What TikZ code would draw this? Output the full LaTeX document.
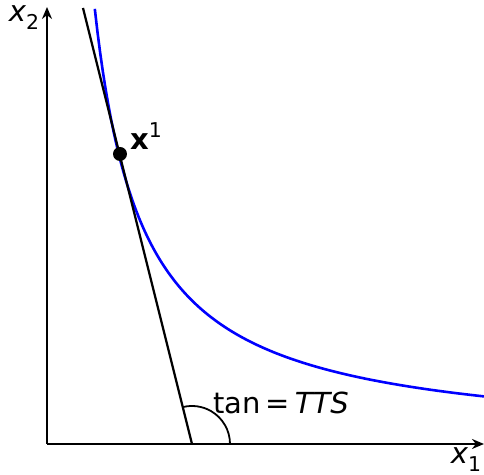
\documentclass[tikz,border=0pt]{standalone}
\usepackage{fontspec}
\setmainfont{DejaVu Sans}
\usetikzlibrary{arrows.meta}
\definecolor{inkK}{HTML}{000000}
\definecolor{cBlue}{HTML}{0000FF}
\newcommand{\lowidx}[1]{\raisebox{-0.28em}{\fontsize{10.2}{11}\selectfont #1}}
\newcommand{\highidx}[1]{\raisebox{0.42em}{\fontsize{10.2}{11}\selectfont #1}}

\begin{document}
\begin{tikzpicture}[x=0.5pt, y=0.5pt,
    font=\fontsize{14.5}{17}\selectfont, text=inkK,
    axisline/.style={draw=inkK, line width=1.4pt, -{Stealth[length=6pt,width=5pt]}},
    isoline/.style={draw=cBlue, line width=1.3pt},
    tangline/.style={draw=inkK, line width=1.1pt},
    dotpt/.style={circle, fill=inkK, inner sep=0pt, minimum size=7pt}]
  \useasboundingbox (-47,-31) rectangle (437,444);
  \coordinate (O) at (0,0);
  \coordinate (xend) at (437,0);
  \coordinate (yend) at (0,437);
  \draw[axisline] (O) -- (xend);
  \draw[axisline] (O) -- (yend);
  \node (xlab) at (419,-16) {\textit{x}\lowidx{1}};
  \node (ylab) at (-23,426) {\textit{x}\lowidx{2}};

  % indifference curve and tangent
  \draw[isoline, domain=47.8:437, samples=150] plot (\x,{208/\x*100});
  \coordinate (foot) at (145,0);
  \coordinate (top) at (36,436);
  \draw[tangline] (foot) -- (top);
  \node[dotpt] (x1) at (73,290) {};
  \node[anchor=west] (x1lab) at (76,308) {\textbf{x}\highidx{1}};

  % angle
  \draw[inkK, line width=0.9pt] ([shift={(0:19pt)}]foot) arc (0:104:19pt);
  \node (tanlab) at (234,41) {tan\,=\,\textit{TTS}};
\end{tikzpicture}
\end{document}
